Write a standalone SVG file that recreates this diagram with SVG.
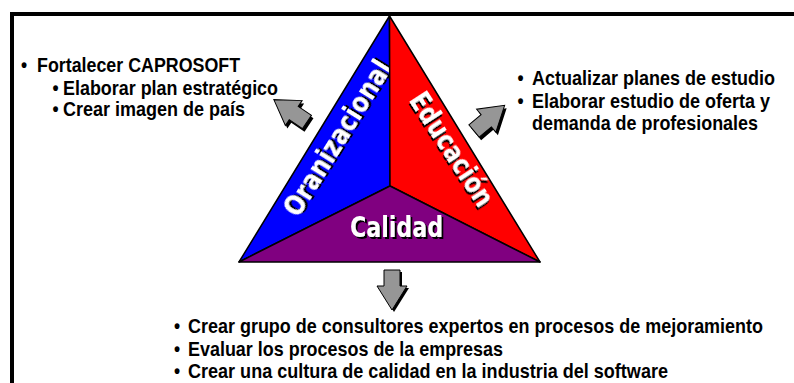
<svg xmlns="http://www.w3.org/2000/svg" width="794" height="383" viewBox="0 0 794 383">
<style>
.t{font-family:"Liberation Sans",Arial,sans-serif;font-weight:bold;font-size:19.5px;fill:#000}
.lbl{font-family:"DejaVu Sans",sans-serif;font-weight:bold;font-size:28px;text-anchor:middle;fill:#fff;filter:url(#shadow)}
.seg{stroke:#000;stroke-width:1.5;stroke-linejoin:round}
.arr{fill:#969696;stroke:#000;stroke-width:1}
.arrsh{fill:#000}
</style>
<defs>
<path id="ar" d="M0,-8 H16 V-15 L40,0 L16,15 V8 H0 Z"/>
<filter id="shadow" x="-10%" y="-30%" width="120%" height="160%">
<feOffset in="SourceAlpha" dx="2" dy="2" result="o"/>
<feMerge><feMergeNode in="o"/><feMergeNode in="SourceGraphic"/></feMerge>
</filter>
</defs>
<rect width="794" height="383" fill="#fff"/>
<path d="M12,385 V14 H796" fill="none" stroke="#000" stroke-width="4"/>

<g id="organizacional">
<polygon class="seg" points="389.5,16 239,262 390,186" fill="#0000ff"/>
<text class="lbl" transform="translate(337,138) rotate(-58)" x="0" y="10" textLength="178" lengthAdjust="spacingAndGlyphs">Oranizacional</text>
</g>
<g id="educacion">
<polygon class="seg" points="389.5,16 540,262 390,186" fill="#ff0000"/>
<text class="lbl" transform="translate(452,149) rotate(57)" x="0" y="10" textLength="130" lengthAdjust="spacingAndGlyphs">Educación</text>
</g>
<g id="calidad">
<polygon class="seg" points="239,262 540,262 390,186" fill="#800080"/>
<text class="lbl" x="396.5" y="237" textLength="93" lengthAdjust="spacingAndGlyphs">Calidad</text>
</g>

<g id="connectors">
<use href="#ar" class="arrsh" transform="translate(309,125) rotate(214)"/>
<use href="#ar" class="arr" transform="translate(307,122) rotate(214)"/>
<use href="#ar" class="arrsh" transform="translate(476,134) rotate(-40)"/>
<use href="#ar" class="arr" transform="translate(474,131) rotate(-40)"/>
<use href="#ar" class="arrsh" transform="translate(394,272) rotate(90)"/>
<use href="#ar" class="arr" transform="translate(392,270) rotate(90)"/>
</g>

<g id="texto-organizacional">
<text class="t" transform="translate(21,72) scale(0.9,1)">•</text>
<text class="t" transform="translate(37,72) scale(0.9,1)" textLength="225.6" lengthAdjust="spacingAndGlyphs">Fortalecer CAPROSOFT</text>
<text class="t" transform="translate(52.5,95) scale(0.9,1)">•</text>
<text class="t" transform="translate(63,95) scale(0.9,1)" textLength="238.9" lengthAdjust="spacingAndGlyphs">Elaborar plan estratégico</text>
<text class="t" transform="translate(52.5,116) scale(0.9,1)">•</text>
<text class="t" transform="translate(63,116) scale(0.9,1)" textLength="202.2" lengthAdjust="spacingAndGlyphs">Crear imagen de país</text>
</g>

<g id="texto-educacion">
<text class="t" transform="translate(517.5,85) scale(0.9,1)">•</text>
<text class="t" transform="translate(532,85) scale(0.9,1)" textLength="270" lengthAdjust="spacingAndGlyphs">Actualizar planes de estudio</text>
<text class="t" transform="translate(517.5,108) scale(0.9,1)">•</text>
<text class="t" transform="translate(532,108) scale(0.9,1)" textLength="264.4" lengthAdjust="spacingAndGlyphs">Elaborar estudio de oferta y</text>
<text class="t" transform="translate(532,130) scale(0.9,1)" textLength="251.1" lengthAdjust="spacingAndGlyphs">demanda de profesionales</text>
</g>

<g id="texto-calidad">
<text class="t" transform="translate(174,333) scale(0.9,1)">•</text>
<text class="t" transform="translate(188,333) scale(0.9,1)" textLength="638.9" lengthAdjust="spacingAndGlyphs">Crear grupo de consultores expertos en procesos de mejoramiento</text>
<text class="t" transform="translate(174,356) scale(0.9,1)">•</text>
<text class="t" transform="translate(188,356) scale(0.9,1)" textLength="350" lengthAdjust="spacingAndGlyphs">Evaluar los procesos de la empresas</text>
<text class="t" transform="translate(174,378) scale(0.9,1)">•</text>
<text class="t" transform="translate(188,378) scale(0.9,1)" textLength="533.3" lengthAdjust="spacingAndGlyphs">Crear una cultura de calidad en la industria del software</text>
</g>
</svg>
